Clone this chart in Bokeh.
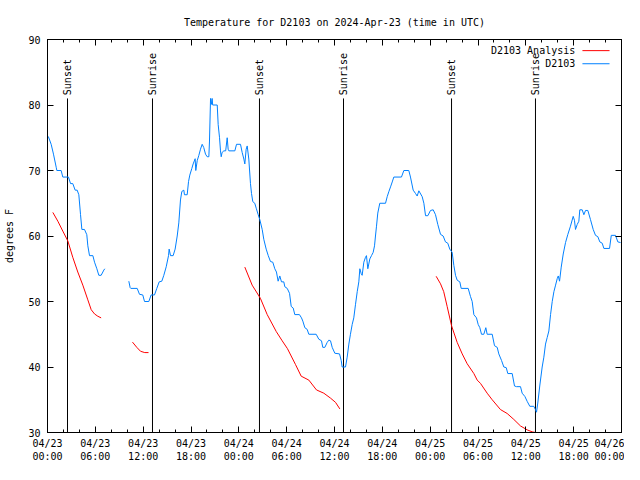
import numpy as np
from bokeh.plotting import figure
from bokeh.models import Range1d, FixedTicker, LinearAxis
from bokeh.core.properties import value
from bokeh.embed import file_html
from bokeh.resources import INLINE

# ---- data (hours since 2024-04-23 00:00 UTC, degrees F) ----
obs_hours = [0.10, 0.46, 0.75, 1.09, 1.17, 1.71, 1.92, 2.63, 2.89, 3.17, 3.47, 3.72, 3.93, 4.14, 4.31, 4.64, 4.93,
             5.06, 5.27, 5.69, 5.9, 6.19, 6.44, 6.73, 7.07, 7.19, np.nan,
             10.2, 10.37, 10.45, 11.25, 11.54, 11.95, 12.17, 12.71, 13.0, 13.42, 13.71, 14.01, 14.34, 14.59, 14.89,
             15.18, 15.26, 15.43, 15.76, 16.01, 16.27, 16.47, 16.68, 16.85, 17.1, 17.18, 17.52, 17.69, 17.85, 18.1,
             18.27, 18.52, 18.6, 18.78, 18.98, 19.19, 19.4, 19.6, 19.82, 20.03, 20.24, 20.32, 20.45, 20.57, 20.65,
             20.72, 21.29, 21.41, 21.58, 21.7, 21.79, 21.9, 22.12, 22.35, 22.54, 22.66, 22.75, 23.5, 23.71, 24.21,
             24.42, 24.63, 24.75, 24.92, 25.05, 25.25, 25.46, 25.59, 25.75, 26.0, 26.18, 26.43, 26.63, 26.93, 27.13,
             27.43, 27.69, 27.97, 28.26, 28.51, 28.72, 28.93, 29.14, 29.35, 29.64, 29.77, 30.07, 30.36, 30.57, 30.82,
             31.02, 31.6, 31.86, 32.03, 32.28, 32.57, 32.78, 33.7, 34.03, 34.37, 34.53, 34.79, 35.08, 35.29, 35.5,
             35.71, 36.04, 36.63, 36.84, 36.96, 37.38, 37.59, 37.8, 38.0, 38.22, 38.42, 38.63, 38.85, 39.05, 39.18,
             39.35, 39.47, 39.68, 39.89, 40.01, 40.18, 40.43, 40.64, 40.85, 41.02, 41.14, 41.27, 41.43, 41.68, 42.4,
             42.61, 42.81, 43.03, 43.24, 43.44, 44.4, 44.7, 45.32, 45.53, 45.87, 46.16, 46.37, 46.58, 47.0, 47.21,
             47.42, 47.71, 48.04, 48.38, 48.67, 48.96, 49.3, 49.63, 49.92, 50.21, 50.46, 50.76, 50.97, 51.18, 51.39,
             51.72, 51.89, 52.77, 53.06, 53.27, 53.48, 53.81, 54.02, 54.23, 54.44, 54.73, 54.98, 55.15, 55.78, 56.07,
             56.41, 56.61, 56.95, 57.24, 57.54, 57.74, 58.29, 58.58, 58.83, 59.33, 59.54, 59.88, 60.17, 60.5, 61.0,
             61.21, 61.34, 61.5, 61.76, 62.05, 62.26, 62.47, 62.68, 62.89, 63.1, 63.31, 63.52, 63.73, 63.94, 64.07,
             64.23, 64.44, 64.69, 64.98, 65.27, 65.6, 65.94, 66.1, 66.23, 66.44, 66.65, 66.77, 67.07, 67.28, 67.49,
             67.78, 68.11, 68.45, 68.74, 69.03, 69.28, 69.58, 69.79, 70.5, 70.72, 71.25, 71.54, 71.88]
obs_temp = [75.2, 74.0, 72.5, 70.5, 70, 70, 69, 69, 68, 68, 67, 67, 66.3, 63.3, 61, 61, 60.2,
            58.5, 57, 57, 56, 55, 54, 54, 54.8, 55, np.nan,
            53.1, 52.1, 52, 52, 51.1, 51, 50, 50, 51, 51, 52, 53, 53.1, 54, 55.3,
            57, 58, 57, 57, 58, 60, 62, 65.5, 66.8, 67, 66.3, 66.3, 68.3, 69.3, 70.3,
            71, 71.8, 70, 71.5, 72.3, 73.25, 74, 73.5, 72.5, 72.1, 72.1, 74.5, 81, 80.1, 81,
            80, 80, 77, 75, 73, 72.1, 72.75, 73, 73, 75, 73.25, 73, 73, 74, 74,
            72.75, 71.75, 71, 73.25, 73.75, 71.75, 68, 66.5, 65.25, 65, 64.25, 63.25, 62.5, 61, 59.5,
            58, 57, 56.1, 56, 55, 54.5, 53.1, 53.9, 53, 53, 52.25, 52, 51.25, 49.25, 49,
            48, 48, 47.5, 47, 46, 45.75, 45, 45, 44.25, 44, 43, 43, 43.75, 44.1, 44,
            43, 42.1, 42, 41, 40, 40, 41.5, 43.5, 45, 46.5, 47.5, 49.5, 51.5, 53, 55,
            54.25, 54, 56, 56.75, 57, 55, 56.5, 57, 57.5, 58.5, 60, 61.5, 63.5, 65, 65,
            66, 66.75, 67.5, 68.25, 69, 69, 70, 70, 69, 67, 66.5, 66.1, 66.9, 66, 65,
            63.1, 63.1, 63.9, 64, 63.25, 61.75, 60.25, 60, 59.1, 58.9, 58, 57.5, 55.5, 54, 53.25,
            53, 52, 52, 50.75, 50, 48, 47.5, 46.5, 46, 45, 45, 46, 45, 45, 43.25,
            43, 42, 41, 40, 39.9, 39, 39, 37.1, 37, 37, 36, 35.5, 34.75, 34, 34,
            33.5, 33.1, 34.5, 37.25, 40, 41.5, 43.5, 44.5, 45.5, 48, 50, 51.5, 52.5, 53.5, 53.9,
            53.1, 55.25, 57.25, 59, 60.25, 61.5, 63, 62.4, 61, 61.75, 62.25, 64, 64, 63.25, 63.9,
            63.9, 62.5, 61, 60.1, 59.9, 59.1, 58.9, 58.1, 58.1, 60.1, 60.1, 59.1, 59]

ana_hours = [0.67, 1.3, 1.92, 2.55, 3.17, 3.8, 4.43, 5.06, 5.48, 5.9, 6.31, 6.73, np.nan,
             10.66, 11.2, 11.67, 12.2, 12.67, np.nan,
             24.75, 25.67, 26.7, 27.56, 28.7, 29.44, 30.1, 31.1, 31.82, 32.78, 33.74, 34.66, 35.5, 36.13, 36.67, np.nan,
             48.75, 49.3, 49.7, 50.13, 50.68, 51.39, 52.02, 52.64, 53.48, 53.9, 54.31, 55.15, 55.78, 56.82, 57.66,
             58.49, 59.33, 60.17, 60.8, 61.2]
ana_temp = [63.6, 62.25, 60.75, 59.25, 56.75, 54.5, 52.5, 50.25, 48.75, 48.1, 47.75, 47.5, np.nan,
            43.8, 43.0, 42.4, 42.2, 42.2, np.nan,
            55.25, 52.5, 50.5, 48, 45.4, 44, 42.8, 40.4, 38.6, 38, 36.5, 36, 35.25, 34.6, 33.6, np.nan,
            53.85, 52.7, 51.5, 49.25, 46.3, 43.75, 42, 40.5, 39, 38, 37.5, 36, 35, 33.5, 32.9,
            32, 31, 30.4, 30.1, 30.0]

sun_hours = [2.51, 13.17, 26.59, 37.13, 50.68, 61.21]
sun_names = ["Sunset", "Sunrise", "Sunset", "Sunrise", "Sunset", "Sunrise"]

x_ticks = [0, 6, 12, 18, 24, 30, 36, 42, 48, 54, 60, 66, 72]
x_tick_labels = ["04/23\n00:00", "04/23\n06:00", "04/23\n12:00", "04/23\n18:00",
                 "04/24\n00:00", "04/24\n06:00", "04/24\n12:00", "04/24\n18:00",
                 "04/25\n00:00", "04/25\n06:00", "04/25\n12:00", "04/25\n18:00",
                 "04/26\n00:00"]
y_ticks = [30, 40, 50, 60, 70, 80, 90]
series_names = ["D2103 Analysis", "D2103"]

FONT = "DejaVu Sans Mono"
BLUE = "#0080ff"
RED = "#ff0000"

p = figure(width=624, height=464, output_backend="svg", toolbar_location=None,
           x_range=Range1d(0, 72), y_range=Range1d(30, 90),
           min_border_left=47, min_border_right=3, min_border_top=39, min_border_bottom=28)

p.title.text = "Temperature for D2103 on 2024-Apr-23 (time in UTC)"
p.title.align = "center"
p.title.text_font = FONT
p.title.text_font_size = "10px"
p.title.text_font_style = "normal"
p.title.text_color = "black"
p.title.standoff = 24

p.grid.visible = False
p.outline_line_color = "black"
p.outline_line_width = 1
p.background_fill_color = "white"
p.border_fill_color = "white"

xt = FixedTicker(ticks=x_ticks, minor_ticks=list(range(0, 73, 2)))
yt = FixedTicker(ticks=y_ticks, minor_ticks=[])

for ax in p.xaxis:
    ax.ticker = xt
    ax.major_label_overrides = {t: l for t, l in zip(x_ticks, x_tick_labels)}
for ax in p.yaxis:
    ax.ticker = yt
    ax.axis_label = "degrees F"

def style(ax, show_labels=True):
    ax.axis_line_color = "black"
    ax.major_tick_line_color = "black"
    ax.minor_tick_line_color = "black"
    ax.major_tick_in = 6
    ax.major_tick_out = 0
    ax.minor_tick_in = 3
    ax.minor_tick_out = 0
    ax.major_label_text_font = FONT
    ax.major_label_text_font_size = "10px" if show_labels else "0px"
    ax.major_label_text_color = "black"
    ax.axis_label_text_font = FONT
    ax.axis_label_text_font_size = "10px"
    ax.axis_label_text_font_style = "normal"
    ax.axis_label_text_color = "black"

for ax in p.xaxis + p.yaxis:
    style(ax)
p.xaxis.major_label_standoff = 5
p.yaxis.major_label_standoff = 7
p.yaxis.axis_label_standoff = 10

top_ax = LinearAxis(ticker=xt, major_label_standoff=0)
right_ax = LinearAxis(ticker=yt, major_label_standoff=0)
style(top_ax, False)
style(right_ax, False)
top_ax.major_label_overrides = {t: "" for t in x_ticks}
right_ax.major_label_overrides = {t: "" for t in y_ticks}
p.add_layout(top_ax, "above")
p.add_layout(right_ax, "right")

# sunrise / sunset markers
p.segment(x0=sun_hours, y0=[30] * len(sun_hours), x1=sun_hours, y1=[81] * len(sun_hours),
          line_color="black", line_width=1)
p.text(x=sun_hours, y=[81.5] * len(sun_hours), text=sun_names, angle=np.pi / 2,
       text_font=value(FONT), text_font_size="10px", text_align="left", text_baseline="middle",
       text_color="black")

# data lines
p.line(ana_hours, ana_temp, line_color=RED, line_width=1)
p.line(obs_hours, obs_temp, line_color=BLUE, line_width=1)

# key (text, then line sample)
key_y = [88.3, 86.3]
p.text(x=[66.2, 66.2], y=key_y, text=series_names, text_font=value(FONT), text_font_size="10px",
       text_align="right", text_baseline="middle", text_color="black")
p.segment(x0=[67.1, 67.1], y0=key_y, x1=[70.5, 70.5], y1=key_y, line_color=[RED, BLUE], line_width=1)

open("out.html", "w").write(file_html(p, INLINE))
